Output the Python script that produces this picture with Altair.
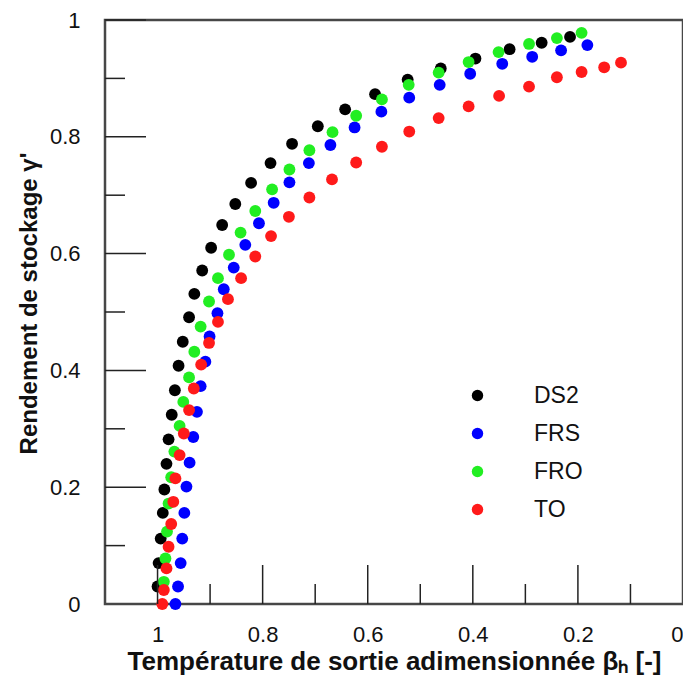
import altair as alt
import pandas as pd

# ---- data ----
series = ["DS2", "FRS", "FRO", "TO"]
colors = ["#000000", "#0000ff", "#22ee22", "#ff1a1a"]

ds2_x = [1.000, 0.998, 0.994, 0.990, 0.987, 0.983, 0.979, 0.973, 0.967, 0.960,
         0.952, 0.940, 0.930, 0.915, 0.898, 0.877, 0.852, 0.822, 0.785, 0.744,
         0.695, 0.643, 0.586, 0.524, 0.461, 0.395, 0.330, 0.269, 0.215]
ds2_y = [0.030, 0.070, 0.112, 0.156, 0.196, 0.240, 0.282, 0.324, 0.366, 0.408,
         0.449, 0.491, 0.531, 0.571, 0.610, 0.649, 0.685, 0.721, 0.755, 0.788,
         0.818, 0.847, 0.873, 0.898, 0.917, 0.934, 0.950, 0.961, 0.971]

frs_x = [0.966, 0.961, 0.956, 0.953, 0.949, 0.945, 0.939, 0.932, 0.925, 0.918,
         0.909, 0.901, 0.886, 0.874, 0.855, 0.833, 0.807, 0.779, 0.749, 0.712,
         0.671, 0.625, 0.574, 0.521, 0.463, 0.405, 0.344, 0.287, 0.232, 0.182]
frs_y = [0.000, 0.030, 0.070, 0.112, 0.156, 0.201, 0.242, 0.286, 0.329, 0.373,
         0.415, 0.458, 0.498, 0.539, 0.576, 0.615, 0.652, 0.687, 0.722, 0.755,
         0.786, 0.816, 0.843, 0.867, 0.889, 0.908, 0.925, 0.937, 0.948, 0.957]

fro_x = [0.988, 0.985, 0.982, 0.979, 0.974, 0.968, 0.958, 0.951, 0.940, 0.930,
         0.918, 0.902, 0.885, 0.864, 0.842, 0.814, 0.782, 0.749, 0.711, 0.667,
         0.622, 0.573, 0.522, 0.465, 0.408, 0.351, 0.293, 0.240, 0.193]
fro_y = [0.038, 0.078, 0.124, 0.172, 0.217, 0.261, 0.305, 0.346, 0.388, 0.432,
         0.475, 0.518, 0.558, 0.598, 0.636, 0.673, 0.710, 0.744, 0.777, 0.808,
         0.836, 0.864, 0.889, 0.910, 0.928, 0.945, 0.959, 0.969, 0.978]

to_x = [0.991, 0.988, 0.983, 0.979, 0.974, 0.970, 0.966, 0.958, 0.950, 0.940,
        0.931, 0.917, 0.902, 0.885, 0.866, 0.841, 0.814, 0.784, 0.750, 0.711,
        0.668, 0.622, 0.573, 0.521, 0.465, 0.408, 0.350, 0.293, 0.240, 0.193,
        0.150, 0.118]
to_y = [0.000, 0.024, 0.061, 0.098, 0.137, 0.175, 0.215, 0.255, 0.292, 0.332,
        0.369, 0.410, 0.447, 0.483, 0.522, 0.558, 0.595, 0.630, 0.663, 0.696,
        0.727, 0.756, 0.783, 0.809, 0.832, 0.852, 0.870, 0.886, 0.902, 0.911,
        0.919, 0.927]

x_label_values = [0, 0.2, 0.4, 0.6, 0.8, 1]
y_label_values = [0, 0.2, 0.4, 0.6, 0.8, 1]
major_ticks = [0.2, 0.4, 0.6, 0.8, 1.0]
minor_ticks = [0.1, 0.3, 0.5, 0.7, 0.9]

# ---- build table ----
rows = []
for name, xs, ys in [("DS2", ds2_x, ds2_y), ("FRS", frs_x, frs_y),
                     ("FRO", fro_x, fro_y), ("TO", to_x, to_y)]:
    for a, b in zip(xs, ys):
        rows.append({"beta": a, "gamma": b, "serie": name})
df = pd.DataFrame(rows)

FONT = "Liberation Sans"
W, H = 578, 584

xscale = alt.Scale(domain=[0, 1.1], reverse=True, nice=False)
yscale = alt.Scale(domain=[0, 1], nice=False)

points = alt.Chart(df).mark_circle(size=140, opacity=1).encode(
    x=alt.X("beta:Q", scale=xscale,
            axis=alt.Axis(values=x_label_values, format="~g", grid=False,
                          domain=False, ticks=False, labelPadding=20,
                          labelFontSize=22, labelFont=FONT, labelColor="#111",
                          title="Température de sortie adimensionnée βₕ [-]",
                          titleFont=FONT, titleFontSize=26, titleFontWeight="bold",
                          titleColor="#111", titleY=57, titleBaseline="middle")),
    y=alt.Y("gamma:Q", scale=yscale,
            axis=alt.Axis(values=y_label_values, format="~g", grid=False,
                          domain=False, ticks=False, labelPadding=25,
                          labelFontSize=22, labelFont=FONT, labelColor="#111",
                          labelFlush=False,
                          title="Rendement de stockage γ'",
                          titleFont=FONT, titleFontSize=24, titleFontWeight="bold",
                          titleColor="#111", titleX=-76, titleY=283,
                          titleAngle=270, titleAlign="center",
                          titleBaseline="middle")),
    color=alt.Color("serie:N", scale=alt.Scale(domain=series, range=colors),
                    legend=alt.Legend(orient="none", legendX=361, legendY=364,
                                      title=None, symbolType="circle",
                                      symbolSize=130, symbolStrokeWidth=0,
                                      labelFontSize=23, labelFont=FONT,
                                      labelColor="#111", labelOffset=45,
                                      rowPadding=14, padding=0)),
)

maj = pd.DataFrame({"v": major_ticks})
mnr = pd.DataFrame({"v": minor_ticks})
tick_color = "#222"

xt_major = alt.Chart(maj).mark_rule(color=tick_color, strokeWidth=1.5).encode(
    x=alt.X("v:Q", scale=xscale), y=alt.value(H), y2=alt.value(H - 39))
xt_minor = alt.Chart(mnr).mark_rule(color=tick_color, strokeWidth=1.5).encode(
    x=alt.X("v:Q", scale=xscale), y=alt.value(H), y2=alt.value(H - 20))
yt_major = alt.Chart(maj).mark_rule(color=tick_color, strokeWidth=1.5).encode(
    y=alt.Y("v:Q", scale=yscale), x=alt.value(0), x2=alt.value(41))
yt_minor = alt.Chart(mnr).mark_rule(color=tick_color, strokeWidth=1.5).encode(
    y=alt.Y("v:Q", scale=yscale), x=alt.value(0), x2=alt.value(20))

chart = alt.layer(points, xt_major, xt_minor, yt_major, yt_minor).properties(
    width=W, height=H,
    autosize=alt.AutoSizeParams(type="none"),
    padding={"left": 97, "top": 12, "right": 0, "bottom": 76},
    background="white",
).configure_view(stroke="#474747", strokeWidth=2.5)

chart.save("out.html", embed_options={"renderer": "svg", "actions": False})
